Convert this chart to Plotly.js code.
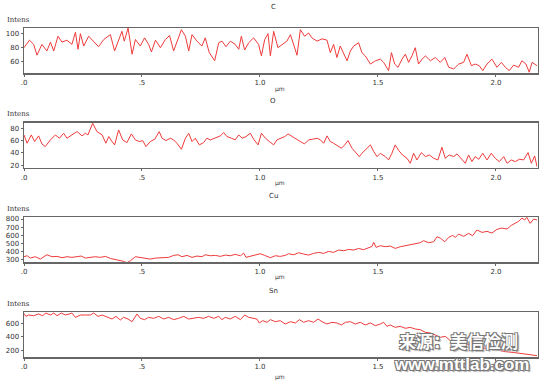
<!DOCTYPE html>
<html><head><meta charset="utf-8">
<script src="https://cdn.plot.ly/plotly-3.0.1.min.js"></script>
<style>html,body{margin:0;padding:0;background:#fff}#chart{width:546px;height:382px}</style>
</head><body><div id="chart"></div>
<script>
var xTickVals = [0, 0.5, 1.0, 1.5, 2.0];
var xTickText = ['.0', '.5', '1.0', '1.5', '2.0'];
var panelTitles = ['C', 'O', 'Cu', 'Sn'];

var cX = [0,0.023,0.041,0.055,0.076,0.097,0.112,0.126,0.144,0.161,0.182,0.203,0.218,0.229,0.239,0.253,0.274,0.295,0.316,0.338,0.366,0.384,0.401,0.415,0.425,0.441,0.458,0.472,0.493,0.511,0.528,0.540,0.557,0.578,0.599,0.617,0.634,0.648,0.667,0.684,0.698,0.712,0.733,0.754,0.768,0.785,0.808,0.825,0.839,0.856,0.874,0.895,0.910,0.921,0.935,0.952,0.973,0.994,1.006,1.020,1.034,1.044,1.058,1.076,1.093,1.114,1.129,1.138,1.157,1.171,1.189,1.206,1.220,1.242,1.263,1.284,1.298,1.312,1.326,1.340,1.355,1.369,1.383,1.397,1.418,1.432,1.446,1.468,1.489,1.510,1.524,1.545,1.557,1.571,1.585,1.602,1.616,1.630,1.644,1.658,1.672,1.687,1.701,1.722,1.743,1.764,1.783,1.800,1.821,1.842,1.863,1.877,1.896,1.912,1.929,1.944,1.962,1.983,2.004,2.023,2.040,2.056,2.075,2.096,2.110,2.127,2.141,2.153,2.174];
var cY = [80,90.7,84.7,69.3,84.7,75.3,87.9,75.3,96.3,87.9,90.7,84.7,101.9,77.7,100,82.3,96.3,89.3,81.4,91.6,98.6,75.3,89.3,103.3,89.3,107.9,70.7,91.6,82.3,94,84.7,73.9,90.7,80,91.6,97.2,75.3,87.9,105.6,96.3,75.3,98.6,89.3,82.3,94,73,61.4,87,89.3,81.4,89.3,84.7,77.7,96.3,76.7,87,94,84.7,68.4,91.6,100,68.4,103.3,80,84.7,89.3,98.6,89.3,69.3,105.6,96.3,100.9,94,89.3,92.6,90.7,73,84.7,66,82.3,70.7,61.4,75.3,82.3,87,73,68.4,56.7,61.4,63.7,59.1,47.4,73,56.7,52.1,63.7,70.7,59.1,68.4,80,56.7,63.7,68.4,61.4,66,59.1,66,52.1,49.8,56.7,59.1,70.7,54.4,56.7,54.4,47.4,56.7,63.7,52.1,59.1,52.1,47.4,55.3,52.1,61.4,56.7,45.1,59.1,54.4];

var oX = [0,0.013,0.031,0.045,0.062,0.076,0.090,0.112,0.133,0.150,0.168,0.182,0.203,0.225,0.246,0.260,0.271,0.281,0.291,0.309,0.331,0.347,0.359,0.373,0.384,0.401,0.418,0.436,0.455,0.472,0.489,0.503,0.517,0.535,0.554,0.573,0.585,0.602,0.620,0.634,0.648,0.667,0.684,0.698,0.712,0.726,0.743,0.761,0.775,0.790,0.811,0.832,0.846,0.860,0.879,0.895,0.910,0.924,0.941,0.959,0.973,0.992,1.006,1.023,1.040,1.058,1.072,1.086,1.105,1.119,1.136,1.153,1.171,1.189,1.206,1.223,1.242,1.256,1.270,1.284,1.298,1.312,1.330,1.345,1.359,1.373,1.390,1.404,1.421,1.432,1.449,1.468,1.482,1.496,1.510,1.531,1.545,1.559,1.573,1.588,1.604,1.623,1.637,1.651,1.665,1.684,1.701,1.718,1.736,1.754,1.771,1.785,1.802,1.821,1.835,1.853,1.870,1.884,1.898,1.912,1.927,1.944,1.962,1.980,1.997,2.014,2.033,2.047,2.065,2.082,2.099,2.117,2.136,2.150,2.164,2.174];
var oY = [69.2,55.7,69.2,58.4,67.6,54.6,50.3,61.1,69.2,63.8,71.9,63.8,69.2,74.6,67.6,71.9,69.2,80,88.1,74.6,69.2,55.7,66.5,58.4,53,77.3,61.1,56.7,70.8,61.1,58.4,60,50.3,58.4,62.2,74.6,63.8,60,63.8,61.1,55.7,45.9,63.8,71.9,58.4,63.8,53,56.7,63.8,61.1,63.8,67.6,73,66.5,63.8,61.1,69.2,63.8,66.5,71.9,62.2,53,71.9,63.8,58.4,53,61.1,63.8,66.5,70.8,66.5,62.2,58.4,54.6,61.1,62.2,63.8,61.1,55.7,67.6,58.4,55.7,51.3,47.6,53,60,47.6,42.2,34,39.4,45.9,53,42.2,34,39.4,34,28.6,39.4,53,43.8,36.7,31.3,23.2,39.4,28.6,40.5,34,36.7,31.3,28.6,49.2,31.3,36.7,34,38.4,31.3,23.2,36.7,25.9,34,29.7,39.4,28.6,39.4,31.3,25.9,34,23.2,28.6,25.9,29.7,28.6,40.5,23.2,35.1,17.8];

var cuX = [0,0.013,0.027,0.048,0.069,0.097,0.119,0.140,0.161,0.182,0.203,0.225,0.243,0.260,0.281,0.302,0.323,0.345,0.366,0.387,0.404,0.422,0.436,0.451,0.472,0.493,0.514,0.535,0.557,0.585,0.613,0.634,0.653,0.669,0.691,0.712,0.733,0.754,0.768,0.790,0.811,0.832,0.853,0.874,0.895,0.917,0.931,0.941,0.959,0.980,1.001,1.020,1.044,1.065,1.086,1.107,1.121,1.143,1.164,1.185,1.206,1.227,1.249,1.270,1.291,1.312,1.333,1.355,1.376,1.397,1.418,1.439,1.460,1.475,1.482,1.492,1.510,1.531,1.552,1.573,1.595,1.616,1.637,1.658,1.679,1.693,1.715,1.736,1.750,1.764,1.783,1.800,1.816,1.828,1.842,1.863,1.884,1.901,1.919,1.941,1.962,1.983,2.004,2.025,2.047,2.065,2.082,2.096,2.110,2.121,2.131,2.145,2.160,2.174];
var cuY = [337,349,320,337,308,361,337,341,325,337,329,337,345,320,333,337,329,341,316,304,288,280,263,288,337,329,316,308,320,325,329,353,361,337,353,329,345,337,361,349,353,341,357,349,366,349,382,329,341,353,374,353,325,349,341,353,374,361,386,370,357,378,390,378,402,390,419,411,427,419,439,423,452,464,513,452,472,460,468,439,460,472,484,501,509,534,509,521,583,566,521,575,599,575,616,587,624,595,665,636,648,628,673,689,677,722,747,771,812,788,820,747,800,788];

var snX = [0,0.008,0.020,0.041,0.062,0.079,0.093,0.112,0.126,0.140,0.158,0.175,0.192,0.203,0.218,0.239,0.260,0.281,0.295,0.314,0.331,0.352,0.373,0.390,0.408,0.422,0.441,0.458,0.479,0.493,0.511,0.528,0.549,0.571,0.592,0.613,0.634,0.655,0.677,0.698,0.719,0.740,0.761,0.782,0.804,0.825,0.839,0.853,0.874,0.895,0.917,0.935,0.952,0.973,0.987,0.997,1.011,1.030,1.044,1.065,1.086,1.107,1.129,1.150,1.167,1.185,1.206,1.227,1.246,1.263,1.284,1.305,1.326,1.345,1.362,1.383,1.404,1.425,1.446,1.468,1.489,1.510,1.524,1.538,1.552,1.573,1.595,1.616,1.637,1.658,1.679,1.701,1.722,1.743,1.764,1.785,1.807,1.828,1.849,1.870,1.891,1.912,1.934,1.955,1.983,2.011,2.040,2.068,2.096,2.124,2.153,2.174];
var snY = [745,702,722,712,737,712,751,722,751,712,751,722,737,751,688,722,722,722,751,702,722,688,663,702,649,688,663,624,737,673,654,688,673,702,663,688,654,673,702,663,673,688,673,702,673,702,654,688,663,702,654,722,688,673,663,605,639,615,654,624,639,590,624,605,654,615,639,615,663,624,590,615,605,576,615,624,590,615,576,605,566,590,615,556,576,541,556,527,541,517,507,468,459,429,395,410,346,322,346,298,283,263,249,234,224,200,185,176,161,146,137,127];

var lineColor = '#ee3b3b';
var xDom = [24/546, 537.5/546];
var yDoms = [[1-73/382, 1-28/382],[1-167.7/382, 1-122.7/382],[1-262/382, 1-217/382],[1-357/382, 1-312/382]];
var yRanges = [[44,108],[16,89],[272,825],[107,766]];
var yTicks = [[60,80,100],[20,40,60,80],[300,400,500,600,700,800],[200,400,600]];
var series = [[cX,cY],[oX,oY],[cuX,cuY],[snX,snY]];

var tickFont = {family: 'DejaVu Sans, sans-serif', size: 7, color: '#333'};
var data = [];
var layout = {
  width: 546, height: 382,
  margin: {l:0, r:0, t:0, b:0},
  paper_bgcolor: '#fff', plot_bgcolor: '#fff',
  showlegend: false,
  annotations: []
};
var titleY = [7, 101, 196, 291];
var intensY = [20, 114, 209, 304];
var umY = [89, 183, 277, 377];
for (var i = 0; i < 4; i++) {
  var s = i === 0 ? '' : String(i+1);
  data.push({x: series[i][0], y: series[i][1], type: 'scatter', mode: 'lines',
    line: {color: lineColor, width: 1}, xaxis: 'x'+s, yaxis: 'y'+s, hoverinfo: 'skip'});
  var common = {showline: true, mirror: true, linecolor: '#666', linewidth: 1.5,
    showgrid: false, zeroline: false, ticks: 'outside', tickcolor: '#666', tickfont: tickFont};
  layout['xaxis'+s] = Object.assign({}, common, {domain: xDom, anchor: 'y'+s, range: [0, 2.176],
    tickvals: xTickVals, ticktext: xTickText, ticklen: 2, tickwidth: 1});
  layout['yaxis'+s] = Object.assign({}, common, {domain: yDoms[i], anchor: 'x'+s, range: yRanges[i],
    tickvals: yTicks[i], ticklen: 2, tickwidth: 1});
  layout.annotations.push({xref:'paper', yref:'paper', x: 273/546, y: 1-titleY[i]/382, text: panelTitles[i],
    showarrow:false, xanchor:'center', yanchor:'middle', font:{family:'DejaVu Sans, sans-serif', size:7, color:'#333'}});
  layout.annotations.push({xref:'paper', yref:'paper', x: 5/546, y: 1-intensY[i]/382, text: 'Intens',
    showarrow:false, xanchor:'left', yanchor:'middle', font:{family:'DejaVu Serif, serif', size:7, color:'#333'}});
  layout.annotations.push({xref:'paper', yref:'paper', x: 280/546, y: 1-umY[i]/382, text: 'μm',
    showarrow:false, xanchor:'center', yanchor:'middle', font:{family:'DejaVu Sans, sans-serif', size:6, color:'#333'}});
}
var wmShadow = '1px 1px 0 #777, -1px -1px 0 #777, 1px -1px 0 #777, -1px 1px 0 #777, 2px 2px 1px #aaa';
layout.annotations.push({xref:'paper', yref:'paper', x: 458/546, y: 1-340/382, text: '来源：美信检测',
  showarrow:false, xanchor:'center', yanchor:'middle',
  font:{family:'Noto Sans CJK SC, sans-serif', size:17, color:'#fff', weight:'bold', shadow: wmShadow}});
layout.annotations.push({xref:'paper', yref:'paper', x: 461/546, y: 1-364/382, text: 'www.mttlab.com',
  showarrow:false, xanchor:'center', yanchor:'middle',
  font:{family:'Liberation Sans, Arial, sans-serif', size:17, color:'#fff', weight:'bold', shadow: wmShadow}});

Plotly.newPlot('chart', data, layout, {staticPlot: true, displayModeBar: false});
</script>
</body></html>
